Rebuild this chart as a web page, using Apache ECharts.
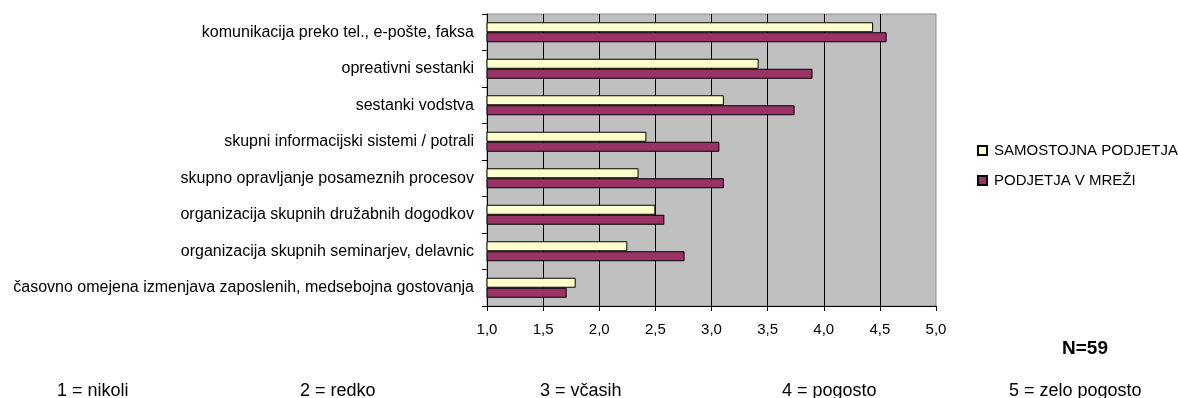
<!DOCTYPE html>
<html>
<head>
<meta charset="utf-8">
<script src="https://cdn.jsdelivr.net/npm/echarts@6/dist/echarts.min.js"></script>
<style>
  html, body { margin: 0; padding: 0; background: #fff; }
  #chart { width: 1178px; height: 398px; }
</style>
</head>
<body>
<div id="chart"></div>
<script>
// Oblike sodelovanja: povprečne ocene (1 = nikoli ... 5 = zelo pogosto)
var categories = [
  'komunikacija preko tel., e-pošte, faksa',
  'opreativni sestanki',
  'sestanki vodstva',
  'skupni informacijski sistemi / potrali',
  'skupno opravljanje posameznih procesov',
  'organizacija skupnih družabnih dogodkov',
  'organizacija skupnih seminarjev, delavnic',
  'časovno omejena izmenjava zaposlenih, medsebojna gostovanja'
];
var seriesNames = ['SAMOSTOJNA PODJETJA', 'PODJETJA V MREŽI'];
var samostojnaPodjetja = [4.44, 3.42, 3.11, 2.42, 2.35, 2.50, 2.25, 1.79];
var podjetjaVMrezi = [4.56, 3.90, 3.74, 3.07, 3.11, 2.58, 2.76, 1.71];
var scaleNotes = ['1 = nikoli', '2 = redko', '3 = včasih', '4 = pogosto', '5 = zelo pogosto'];
var sampleNote = 'N=59';

var FONT = '"Liberation Sans", Arial, sans-serif';
var chart = echarts.init(document.getElementById('chart'), null, { renderer: 'canvas' });

// lestvica ocen pod grafom
var notePositions = [57, 300, 540, 782, 1009];
var graphics = scaleNotes.map(function (t, i) {
  return {
    type: 'text', left: notePositions[i], top: 382,
    style: { text: t, font: '18px ' + FONT, fill: '#000' }
  };
});
graphics.push({
  type: 'text', left: 1062, top: 339,
  style: { text: sampleNote, font: 'bold 19px ' + FONT, fill: '#000' }
});

chart.setOption({
  animation: false,
  textStyle: { fontFamily: FONT },
  grid: {
    left: 487, right: 242, top: 14, bottom: 92,
    show: true, backgroundColor: '#C0C0C0',
    borderColor: '#8c8c8c', borderWidth: 1
  },
  legend: {
    orient: 'vertical', left: 972, top: 138,
    icon: 'rect', itemWidth: 9, itemHeight: 9, itemGap: 15,
    textStyle: { fontSize: 15, color: '#000', fontFamily: FONT, padding: [0, 0, 0, 2] },
    data: seriesNames
  },
  xAxis: {
    type: 'value', min: 1, max: 5, interval: 0.5,
    axisLine: { show: true, lineStyle: { color: '#000', width: 1 } },
    axisTick: { show: true, length: 5, lineStyle: { color: '#000' } },
    axisLabel: {
      fontSize: 15, color: '#000', margin: 16,
      formatter: function (v) { return v.toFixed(1).replace('.', ','); }
    },
    splitLine: { show: true, showMaxLine: false, lineStyle: { color: '#000', width: 1 } }
  },
  yAxis: {
    type: 'category', inverse: true, data: categories,
    axisLine: { show: true, lineStyle: { color: '#000', width: 1 } },
    axisTick: { show: true, length: 5, lineStyle: { color: '#000' } },
    axisLabel: { fontSize: 16, color: '#000', margin: 13 }
  },
  series: [
    {
      name: seriesNames[0], type: 'bar', data: samostojnaPodjetja,
      barWidth: 10, barGap: '0%',
      itemStyle: { color: '#FFFFCC', borderColor: '#000', borderWidth: 1 }
    },
    {
      name: seriesNames[1], type: 'bar', data: podjetjaVMrezi,
      barWidth: 10, barGap: '0%',
      itemStyle: { color: '#993366', borderColor: '#000', borderWidth: 1 }
    }
  ],
  graphic: graphics
});
</script>
</body>
</html>
